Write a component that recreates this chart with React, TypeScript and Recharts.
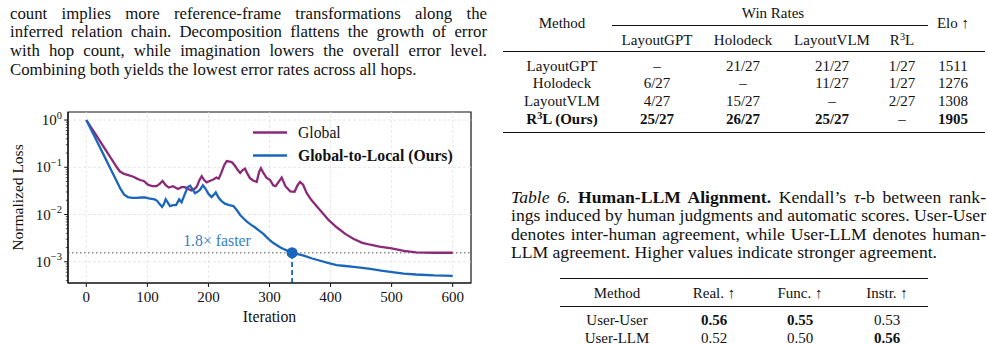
import React from 'react';
import {
  LineChart,
  Line,
  XAxis,
  YAxis,
  ReferenceLine,
  ReferenceDot,
  ReferenceArea,
  Legend,
  Label,
} from 'recharts';

const FONT = '"Liberation Serif", "Times New Roman", Times, serif';
const PURPLE = '#8a2a78';
const BLUE = '#1a66bb';
const NOTE_BLUE = '#3a7fc6';

// ---------- chart data ----------
const globalIters = [
  0, 10, 20, 30, 40, 50, 55, 62, 70, 77, 83, 88, 94, 101, 108, 115, 120, 125, 130, 135, 142, 150, 156, 161, 167, 172,
  177, 181, 185, 189, 193, 197, 202, 208, 213, 217, 221, 226, 230, 235, 239, 244, 248, 252, 256, 260, 264, 268, 273,
  279, 283, 286, 290, 295, 301, 306, 310, 315, 320, 326, 334, 341, 346, 350, 355, 361, 369, 383, 397, 410, 424, 438,
  452, 465, 480, 500, 520, 540, 570, 600,
];
const globalLoss = [
  1, 0.631, 0.398, 0.251, 0.158, 0.1, 0.0813, 0.0724, 0.0676, 0.0631, 0.0575, 0.0537, 0.0513, 0.0427, 0.0398, 0.0398,
  0.0447, 0.0513, 0.0417, 0.0372, 0.0398, 0.0347, 0.038, 0.038, 0.0347, 0.0324, 0.0347, 0.0389, 0.0525, 0.0646,
  0.0537, 0.0479, 0.0513, 0.055, 0.0603, 0.0575, 0.0759, 0.112, 0.135, 0.132, 0.126, 0.105, 0.0871, 0.0759, 0.0871,
  0.0933, 0.0724, 0.0589, 0.0525, 0.049, 0.0794, 0.0955, 0.0759, 0.0603, 0.0537, 0.0417, 0.0398, 0.049, 0.0603,
  0.0398, 0.0309, 0.0302, 0.0417, 0.049, 0.0427, 0.0282, 0.02, 0.0123, 0.00759, 0.00537, 0.00389, 0.00302, 0.00251,
  0.00229, 0.00209, 0.00191, 0.0017, 0.00158, 0.00155, 0.00155,
];
const oursIters = [
  0, 10, 20, 30, 40, 50, 56, 62, 68, 75, 82, 90, 96, 102, 107, 112, 116, 120, 124, 127, 130, 133, 137, 142, 147, 152,
  156, 161, 166, 170, 174, 178, 182, 186, 191, 195, 200, 205, 209, 212, 216, 221, 227, 234, 241, 246, 252, 258, 263,
  270, 276, 283, 290, 296, 301, 307, 312, 318, 323, 330, 337, 346, 356, 370, 383, 397, 410, 424, 438, 452, 465, 483,
  501, 520, 540, 570, 600,
];
const oursLoss = [
  1, 0.55, 0.302, 0.166, 0.0912, 0.0501, 0.0347, 0.0263, 0.0234, 0.0224, 0.0224, 0.0229, 0.0229, 0.0219, 0.0214,
  0.0209, 0.0195, 0.0166, 0.0145, 0.0166, 0.0209, 0.0182, 0.0151, 0.0158, 0.0158, 0.0209, 0.0182, 0.0263, 0.038,
  0.0407, 0.0339, 0.0282, 0.0302, 0.0331, 0.0417, 0.0355, 0.0275, 0.0234, 0.0263, 0.0295, 0.0234, 0.0195, 0.017,
  0.0158, 0.0151, 0.0126, 0.00977, 0.00813, 0.00708, 0.00603, 0.00537, 0.00457, 0.00389, 0.00324, 0.00282, 0.00245,
  0.00224, 0.002, 0.00186, 0.0017, 0.00155, 0.00145, 0.00135, 0.00117, 0.00105, 0.000933, 0.000851, 0.000813,
  0.000776, 0.000741, 0.000708, 0.000646, 0.000603, 0.000562, 0.000537, 0.000513, 0.000501,
];
const seriesNames = ['Global', 'Global-to-Local (Ours)'];
const xTicks = [0, 100, 200, 300, 400, 500, 600];
const yExponents = [-3, -2, -1, 0];
const minorMultipliers = [2, 3, 4, 5, 6, 7, 8, 9];
const speedupLabel = '1.8× faster';
const matchIter = 337; // iteration where ours reaches Global's final loss
const noteIter = 214;
const noteLoss = 0.00275;

const X_DOMAIN: [number, number] = [-30, 630];
const Y_DOMAIN: [number, number] = [Math.pow(10, -3.45), Math.pow(10, 0.17)];

const globalData = globalIters.map((iter, i) => ({ iter, loss: globalLoss[i] }));
const oursData = oursIters.map((iter, i) => ({ iter, loss: oursLoss[i] }));
const globalFinal = globalLoss[globalLoss.length - 1];

const yMajor = yExponents.map((e) => Math.pow(10, e));
const yTicksAll: number[] = [];
[-4, -3, -2, -1, 0].forEach((e) => {
  const base = Math.pow(10, e);
  if (base >= Y_DOMAIN[0] && base <= Y_DOMAIN[1]) yTicksAll.push(base);
  minorMultipliers.forEach((m) => {
    const v = m * base;
    if (v >= Y_DOMAIN[0] && v <= Y_DOMAIN[1]) yTicksAll.push(v);
  });
});
yTicksAll.sort((a, b) => a - b);

// ---------- table data ----------
const winCols = ['LayoutGPT', 'Holodeck', 'LayoutVLM', 'R3L'];
const winMethods = ['LayoutGPT', 'Holodeck', 'LayoutVLM', 'R3L (Ours)'];
const winRates = [
  ['–', '21/27', '21/27', '1/27'],
  ['6/27', '–', '11/27', '1/27'],
  ['4/27', '15/27', '–', '2/27'],
  ['25/27', '26/27', '25/27', '–'],
];
const eloScores = ['1511', '1276', '1308', '1905'];
const boldWinRow = 3;

const alignCols = ['Real. ↑', 'Func. ↑', 'Instr. ↑'];
const alignMethods = ['User-User', 'User-LLM'];
const alignVals = [
  ['0.56', '0.55', '0.53'],
  ['0.52', '0.50', '0.56'],
];
const alignBold = [
  [true, true, false],
  [false, false, true],
];

const paragraphLines = [
  'count implies more reference-frame transformations along the',
  'inferred relation chain. Decomposition flattens the growth of error',
  'with hop count, while imagination lowers the overall error level.',
  'Combining both yields the lowest error rates across all hops.',
];

// ---------- helpers ----------
const withR3 = (s: string) => {
  if (!s.startsWith('R3L')) return s;
  return (
    <>
      R<span style={{ fontSize: '0.68em', position: 'relative', top: '-0.45em' }}>3</span>
      {s.slice(2)}
    </>
  );
};

const Cell = ({ cx, cy, children, bold, w = 130, size = 15 }: any) => (
  <div
    style={{
      position: 'absolute',
      left: cx - w / 2,
      top: cy - 7,
      width: w,
      height: 14,
      lineHeight: '14px',
      textAlign: 'center',
      fontSize: size,
      fontWeight: bold ? 'bold' : 'normal',
      whiteSpace: 'nowrap',
    }}
  >
    {children}
  </div>
);

const Rule = ({ x1, x2, y, t = 1 }: any) => (
  <div style={{ position: 'absolute', left: x1, top: y - t / 2, width: x2 - x1, height: t, background: '#111' }} />
);

const YTick = (props: any) => {
  const { x, y, payload } = props;
  const v = payload.value as number;
  const lg = Math.log10(v);
  const e = Math.round(lg);
  const major = Math.abs(lg - e) < 1e-6;
  return (
    <g>
      <line x1={x - (major ? 3.8 : 2.2)} x2={x} y1={y} y2={y} stroke="#111" strokeWidth={major ? 1 : 0.7} />
      {major && (
        <text x={x - 6} y={y + 5} textAnchor="end" fontFamily={FONT} fontSize={15} fill="#111">
          10
          <tspan dy={-6.5} fontSize={10.5}>
            {e === 0 ? '0' : '−' + Math.abs(e)}
          </tspan>
        </text>
      )}
    </g>
  );
};

const renderLegend = () => {
  const items = [
    { name: seriesNames[0], color: PURPLE, bold: false },
    { name: seriesNames[1], color: BLUE, bold: true },
  ];
  return (
    <div style={{ fontFamily: FONT }}>
      {items.map((it) => (
        <div key={it.name} style={{ display: 'flex', alignItems: 'center', height: 23 }}>
          <svg width={34} height={23} style={{ display: 'block' }}>
            <line x1={0} x2={34} y1={11.5} y2={11.5} stroke={it.color} strokeWidth={2.3} />
          </svg>
          <span
            style={{
              marginLeft: 11,
              fontSize: 15.7,
              fontWeight: it.bold ? 'bold' : 'normal',
              color: '#111',
              whiteSpace: 'nowrap',
            }}
          >
            {it.name}
          </span>
        </div>
      ))}
    </div>
  );
};

const LossChart = () => (
  <LineChart width={490} height={254} margin={{ top: 22, right: 19, bottom: 0, left: 0 }}>
    <XAxis
      type="number"
      dataKey="iter"
      domain={X_DOMAIN}
      ticks={xTicks}
      allowDataOverflow
      interval={0}
      height={61}
      tickSize={4}
      tickMargin={4}
      stroke="#111"
      axisLine={{ stroke: '#111', strokeWidth: 1.2 }}
      tickLine={{ stroke: '#111' }}
      tick={{ fontFamily: FONT, fontSize: 15, fill: '#111' }}
    >
      <Label
        content={({ viewBox }: any) => (
          <text
            x={viewBox.x + viewBox.width / 2}
            y={viewBox.y + 38.5}
            textAnchor="middle"
            fontFamily={FONT}
            fontSize={15.8}
            fill="#111"
          >
            Iteration
          </text>
        )}
      />
    </XAxis>
    <YAxis
      type="number"
      scale="log"
      domain={Y_DOMAIN}
      allowDataOverflow
      ticks={yTicksAll}
      interval={0}
      width={68}
      tickSize={0}
      tickMargin={0}
      tickLine={false}
      axisLine={{ stroke: '#111', strokeWidth: 1.2 }}
      tick={<YTick />}
    >
      <Label
        content={({ viewBox }: any) => {
          const cx = 17.5;
          const cy = viewBox.y + viewBox.height / 2;
          return (
            <text
              x={cx}
              y={cy}
              transform={`rotate(-90, ${cx}, ${cy})`}
              textAnchor="middle"
              dominantBaseline="central"
              fontFamily={FONT}
              fontSize={15.5}
              fill="#111"
            >
              Normalized Loss
            </text>
          );
        }}
      />
    </YAxis>

    {xTicks.map((t) => (
      <ReferenceLine key={'gx' + t} x={t} stroke="#e2e2e2" strokeWidth={0.8} strokeDasharray="3 2" />
    ))}
    {yMajor.map((t) => (
      <ReferenceLine key={'gy' + t} y={t} stroke="#e2e2e2" strokeWidth={0.8} strokeDasharray="3 2" />
    ))}

    <ReferenceLine y={globalFinal} stroke="#8a8a8a" strokeWidth={1.3} strokeDasharray="1.5 2.5" />
    <ReferenceLine
      segment={[
        { x: matchIter, y: Y_DOMAIN[0] },
        { x: matchIter, y: globalFinal },
      ]}
      stroke={BLUE}
      strokeWidth={1.8}
      strokeDasharray="5 3"
    />

    <Line
      data={globalData}
      dataKey="loss"
      name={seriesNames[0]}
      stroke={PURPLE}
      strokeWidth={2.3}
      dot={false}
      type="linear"
      isAnimationActive={false}
    />
    <Line
      data={oursData}
      dataKey="loss"
      name={seriesNames[1]}
      stroke={BLUE}
      strokeWidth={2.3}
      dot={false}
      type="linear"
      isAnimationActive={false}
    />

    <ReferenceDot x={matchIter} y={globalFinal} r={5.5} fill={BLUE} stroke="none" />
    <ReferenceDot
      x={noteIter}
      y={noteLoss}
      r={0}
      shape={(p: any) => (
        <text
          x={p.cx}
          y={p.cy}
          textAnchor="middle"
          dominantBaseline="central"
          fontFamily={FONT}
          fontSize={15.8}
          fill={NOTE_BLUE}
        >
          {speedupLabel}
        </text>
      )}
    />
    <ReferenceArea
      x1={X_DOMAIN[0]}
      x2={X_DOMAIN[1]}
      y1={Y_DOMAIN[0]}
      y2={Y_DOMAIN[1]}
      fill="none"
      stroke="#111"
      strokeWidth={1.2}
      fillOpacity={0}
    />
    <Legend
      layout="vertical"
      align="center"
      verticalAlign="middle"
      content={renderLegend}
      wrapperStyle={{ left: 253, top: 31, width: 'auto', height: 'auto' }}
    />
  </LineChart>
);

const JLine = ({ top, left, width, last, children, size = 16.8, ws = 0 }: any) => (
  <div
    style={{
      position: 'absolute',
      top,
      left,
      width,
      height: 19,
      lineHeight: '19px',
      fontSize: size,
      wordSpacing: ws,
      textAlign: last ? 'left' : 'justify',
      textAlignLast: last ? 'left' : 'justify',
      whiteSpace: 'nowrap',
    }}
  >
    {children}
  </div>
);

export default function App() {
  // table 1 geometry
  const winColX = [657, 743, 832, 902];
  const winRowY = [65.5, 83.2, 100.8, 118.5];
  const methodX = 562;
  const eloX = 953;
  // table 2 geometry
  const alColX = [714, 800, 887];
  const alMethodX = 617;
  const alRowY = [320, 337.5];

  const captionTop = [187.5, 206, 224.5, 243];
  const capSize = 17.6;
  const capWs = -3;

  return (
    <div
      style={{
        position: 'absolute',
        left: 0,
        top: 0,
        width: 987,
        height: 344,
        background: '#fff',
        overflow: 'hidden',
        fontFamily: FONT,
        color: '#111',
      }}
    >
      {/* left paragraph */}
      {paragraphLines.map((l, i) => (
        <JLine key={i} top={3.5 + i * 18.7} left={10} width={477} last={i === paragraphLines.length - 1}>
          {l}
        </JLine>
      ))}

      {/* chart */}
      <div style={{ position: 'absolute', left: 0, top: 90 }}>
        <LossChart />
      </div>

      {/* table 1 */}
      <Cell cx={methodX} cy={23}>Method</Cell>
      <Cell cx={773} cy={13}>Win Rates</Cell>
      <Cell cx={eloX} cy={23} w={60}>Elo ↑</Cell>
      <Rule x1={612} x2={928} y={25.5} t={1} />
      {winCols.map((c, j) => (
        <Cell key={c} cx={winColX[j]} cy={39.5}>
          {withR3(c)}
        </Cell>
      ))}
      <Rule x1={503} x2={985} y={51.5} t={1.6} />
      {winMethods.map((m, i) => (
        <React.Fragment key={m}>
          <Cell cx={methodX} cy={winRowY[i]} bold={i === boldWinRow}>
            {withR3(m)}
          </Cell>
          {winRates[i].map((v, j) => (
            <Cell key={j} cx={winColX[j]} cy={winRowY[i]} bold={i === boldWinRow && v !== '–'}>
              {v}
            </Cell>
          ))}
          <Cell cx={eloX} cy={winRowY[i]} w={60} bold={i === boldWinRow}>
            {eloScores[i]}
          </Cell>
        </React.Fragment>
      ))}
      <Rule x1={503} x2={985} y={132.5} t={1.6} />

      {/* caption */}
      <JLine top={captionTop[0]} left={511} width={475} size={capSize} ws={capWs}>
        <i>Table 6.</i> <b>Human-LLM Alignment.</b> Kendall’s <i>τ</i>-b between rank-
      </JLine>
      <JLine top={captionTop[1]} left={511} width={475} size={capSize} ws={capWs}>
        ings induced by human judgments and automatic scores. User-User
      </JLine>
      <JLine top={captionTop[2]} left={511} width={475} size={capSize} ws={capWs}>
        denotes inter-human agreement, while User-LLM denotes human-
      </JLine>
      <JLine top={captionTop[3]} left={511} width={475} size={capSize} last>
        LLM agreement. Higher values indicate stronger agreement.
      </JLine>

      {/* table 2 */}
      <Rule x1={560} x2={928} y={278.5} t={1.6} />
      <Cell cx={alMethodX} cy={293.3}>Method</Cell>
      {alignCols.map((c, j) => (
        <Cell key={c} cx={alColX[j]} cy={293.3}>
          {c}
        </Cell>
      ))}
      <Rule x1={560} x2={928} y={306.7} t={1} />
      {alignMethods.map((m, i) => (
        <React.Fragment key={m}>
          <Cell cx={alMethodX} cy={alRowY[i]}>
            {m}
          </Cell>
          {alignVals[i].map((v, j) => (
            <Cell key={j} cx={alColX[j]} cy={alRowY[i]} bold={alignBold[i][j]}>
              {v}
            </Cell>
          ))}
        </React.Fragment>
      ))}
    </div>
  );
}
